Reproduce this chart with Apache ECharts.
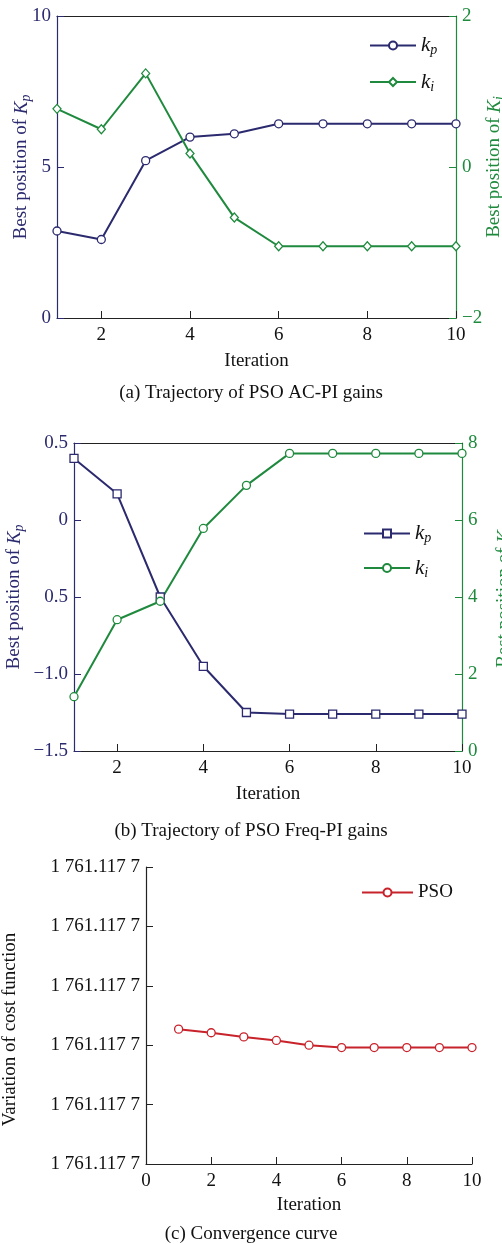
<!DOCTYPE html>
<html><head><meta charset="utf-8">
<script src="https://cdn.jsdelivr.net/npm/echarts@6/dist/echarts.min.js"></script>
<style>html,body{margin:0;padding:0;background:#fff}#c{width:502px;height:1244px}</style>
</head><body><div id="c"></div>
<script>
// ---- data ----
const iterations = [1,2,3,4,5,6,7,8,9,10];
const acKp = [2.88,2.60,5.21,5.99,6.10,6.43,6.43,6.43,6.43,6.43];
const acKi = [0.77,0.50,1.24,0.18,-0.67,-1.05,-1.05,-1.05,-1.05,-1.05];
const frKp = [0.40,0.17,-0.50,-0.95,-1.25,-1.26,-1.26,-1.26,-1.26,-1.26];
const frKi = [1.41,3.41,3.89,5.78,6.90,7.73,7.73,7.73,7.73,7.73];
// cost variation, in units of the (identically labelled) y-axis ticks
const costPSO = [2.27,2.21,2.14,2.08,2.00,1.96,1.96,1.96,1.96,1.96];
const xTicksAB = [2,4,6,8,10];
const frKpTickLabels = {'-1.5':'\u22121.5','-1':'\u22121.0','-0.5':'0.5','0':'0','0.5':'0.5'};
const costTickLabel = '1 761.117 7';
const captions = ['(a) Trajectory of PSO AC-PI gains','(b) Trajectory of PSO Freq-PI gains','(c) Convergence curve'];

const NAVY = '#2b2a6f', GREEN = '#1f8a3e', RED = '#c8222b', BLACK = '#222';
const FF = '"Liberation Serif", "Times New Roman", serif';
const FS = 19;
const pair = (xs, ys) => xs.map((x,i)=>[x, ys[i]]);
const minus = v => String(v).replace('-', '\u2212');

function nameRich(color){
  return {color, fontFamily: FF, fontSize: FS,
    rich: {t:{color,fontFamily:FF,fontSize:FS}, k:{color,fontFamily:FF,fontSize:FS,fontStyle:'italic'},
           s:{color,fontFamily:FF,fontSize:14,fontStyle:'italic',padding:[9,0,0,0]}}};
}
const legendRich = {fontFamily:FF,fontSize:FS,color:'#111',
  rich:{k:{fontFamily:FF,fontSize:21,fontStyle:'italic',color:'#111'},
        s:{fontFamily:FF,fontSize:14,fontStyle:'italic',color:'#111',padding:[10,0,0,0]},
        n:{fontFamily:FF,fontSize:FS,color:'#111'}}};
const legendFmt = n => {
  if (n.startsWith('kp')) return '{k|k}{s|p}';
  if (n.startsWith('ki')) return '{k|k}{s|i}';
  return '{n|' + n + '}';
};
const lbl = (color) => ({color, fontFamily: FF, fontSize: FS});

const grids = [
  {left:57, right:46, top:16, height:302, outerBoundsMode:'none', containLabel:false},
  {left:74, right:40, top:443, height:308, outerBoundsMode:'none', containLabel:false},
  {left:146, right:30, top:867, height:297, outerBoundsMode:'none', containLabel:false}
];
const TL = 7;

function xMain(gi, opts){
  return Object.assign({type:'value', gridIndex:gi, position:'bottom',
    axisLine:{show:true,onZero:false,lineStyle:{color:BLACK,width:1.2}},
    axisTick:{show:true,inside:true,length:TL,lineStyle:{color:BLACK}},
    axisLabel:Object.assign(lbl('#111'),{margin:8}),
    splitLine:{show:false},
    name:'Iteration', nameLocation:'middle', nameGap:36, nameMoveOverlap:false,
    nameTextStyle:{color:'#111',fontFamily:FF,fontSize:FS}}, opts);
}
function xTop(gi){
  return {type:'value', gridIndex:gi, position:'top', min:1, max:10,
    axisLine:{show:true,onZero:false,lineStyle:{color:BLACK,width:1.2}},
    axisTick:{show:false}, axisLabel:{show:false}, splitLine:{show:false}};
}
function yAx(gi, pos, color, opts){
  return Object.assign({type:'value', gridIndex:gi, position:pos,
    axisLine:{show:true,onZero:false,lineStyle:{color,width:1.2}},
    axisTick:{show:true,inside:true,length:TL,lineStyle:{color}},
    axisLabel:Object.assign(lbl(color),{margin:6}), splitLine:{show:false},
    nameLocation:'middle', nameRotate:90, nameMoveOverlap:false, nameTextStyle:nameRich(color)}, opts);
}

const sym = (s) => ({symbol:s, symbolSize:8, showSymbol:true,
  itemStyle:{color:'#fff', borderWidth:1.3}});

const option = {
  animation:false,
  backgroundColor:'#fff',
  grid: grids,
  title: captions.map((t,i)=>({text:t, left:'center', top:[379,817,1220][i],
    textStyle:{fontFamily:FF,fontSize:FS,fontWeight:'normal',color:'#111'}})),
  legend: [
    {data:['kp_a','ki_a'], orient:'vertical', left:364, top:30, itemWidth:46, itemHeight:10, itemGap:14,
      formatter:legendFmt, textStyle:legendRich},
    {data:['kp_b','ki_b'], orient:'vertical', left:358, top:518, itemWidth:46, itemHeight:10, itemGap:12,
      formatter:legendFmt, textStyle:legendRich},
    {data:['PSO'], orient:'vertical', left:356, top:878, itemWidth:51, itemHeight:10,
      formatter:legendFmt, textStyle:legendRich}
  ],
  xAxis: [
    xMain(0,{min:1,max:10, axisLabel:Object.assign(lbl('#111'),{margin:8,customValues:xTicksAB}), axisTick:{show:true,inside:true,length:TL,lineStyle:{color:BLACK},customValues:xTicksAB}, nameGap:34}),
    xTop(0),
    xMain(1,{min:1,max:10, axisLabel:Object.assign(lbl('#111'),{margin:8,customValues:xTicksAB}), axisTick:{show:true,inside:true,length:TL,lineStyle:{color:BLACK},customValues:xTicksAB}, nameGap:34}),
    xTop(1),
    xMain(2,{min:0,max:10,interval:2, nameGap:32})
  ],
  yAxis: [
    yAx(0,'left',NAVY,{min:0,max:10,interval:5, name:'{t|Best position of }{k|K}{s|p}', nameGap:24}),
    yAx(0,'right',GREEN,{min:-2,max:2,interval:2, axisLabel:Object.assign(lbl(GREEN),{margin:6,formatter:minus}), name:'{t|Best position of }{k|K}{s|i}', nameGap:27}),
    yAx(1,'left',NAVY,{min:-1.5,max:0.5,interval:0.5, axisLabel:Object.assign(lbl(NAVY),{margin:6,formatter:v=>frKpTickLabels[String(v)]}), name:'{t|Best position of }{k|K}{s|p}', nameGap:48}),
    yAx(1,'right',GREEN,{min:0,max:8,interval:2, name:'{t|Best position of }{k|K}{s|i}', nameGap:31}),
    yAx(2,'left',BLACK,{min:0,max:5,interval:1, axisLabel:Object.assign(lbl('#111'),{margin:6,formatter:()=>costTickLabel}),
      name:'Variation of cost function', nameGap:126, nameTextStyle:{color:'#111',fontFamily:FF,fontSize:FS,padding:[0,28,0,0]}})
  ],
  series: [
    Object.assign({type:'line', name:'kp_a', xAxisIndex:0, yAxisIndex:0, data:pair(iterations,acKp),
      lineStyle:{color:NAVY,width:2}, color:NAVY}, sym('circle'), {itemStyle:{color:'#fff',borderColor:NAVY,borderWidth:1.3}}),
    Object.assign({type:'line', name:'ki_a', xAxisIndex:0, yAxisIndex:1, data:pair(iterations,acKi),
      lineStyle:{color:GREEN,width:2}, color:GREEN}, sym('diamond'), {symbolSize:[8,9], itemStyle:{color:'#fff',borderColor:GREEN,borderWidth:1.3}}),
    Object.assign({type:'line', name:'kp_b', xAxisIndex:2, yAxisIndex:2, data:pair(iterations,frKp),
      lineStyle:{color:NAVY,width:2}, color:NAVY}, sym('rect'), {itemStyle:{color:'#fff',borderColor:NAVY,borderWidth:1.3}}),
    Object.assign({type:'line', name:'ki_b', xAxisIndex:2, yAxisIndex:3, data:pair(iterations,frKi),
      lineStyle:{color:GREEN,width:2}, color:GREEN}, sym('circle'), {itemStyle:{color:'#fff',borderColor:GREEN,borderWidth:1.3}}),
    Object.assign({type:'line', name:'PSO', xAxisIndex:4, yAxisIndex:4, data:pair(iterations,costPSO),
      lineStyle:{color:RED,width:2}, color:RED}, sym('circle'), {itemStyle:{color:'#fff',borderColor:RED,borderWidth:1.3}})
  ]
};
const chart = echarts.init(document.getElementById('c'), null, {renderer:'canvas'});
chart.setOption(option);
</script></body></html>
